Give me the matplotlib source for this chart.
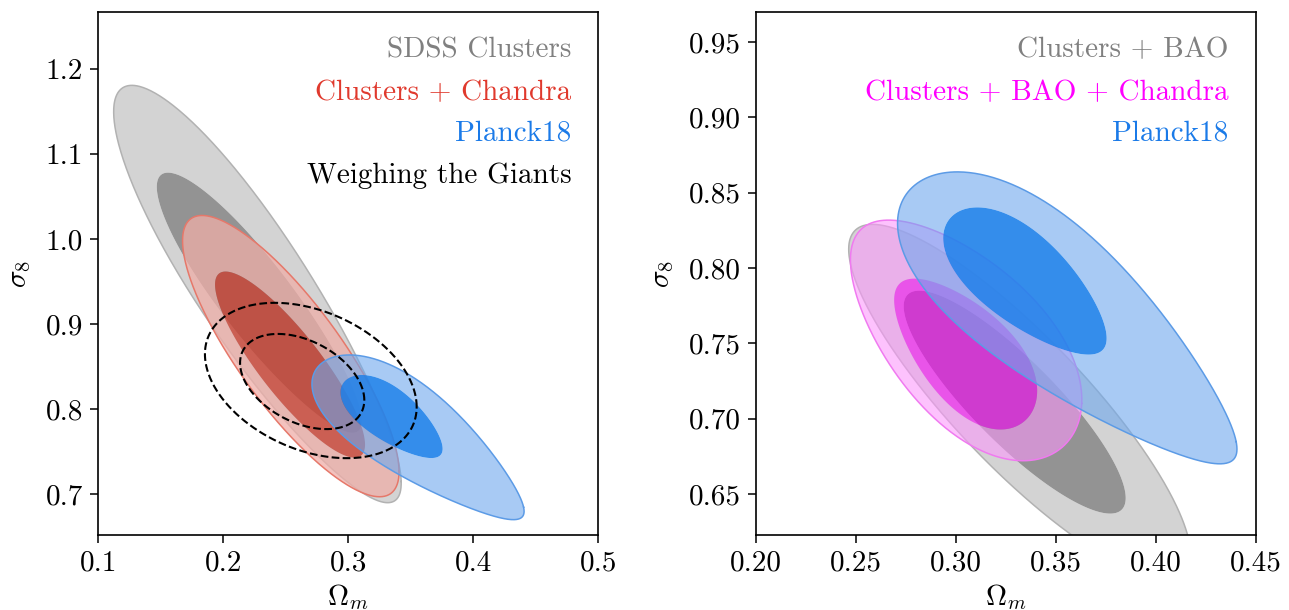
import numpy as np
import matplotlib
matplotlib.use("Agg")
import matplotlib.pyplot as plt
from matplotlib.path import Path
from matplotlib.patches import PathPatch

plt.rcParams["font.family"] = "serif"
plt.rcParams["font.serif"] = ["cmr10"]
plt.rcParams["mathtext.fontset"] = "cm"
plt.rcParams["axes.formatter.use_mathtext"] = True
plt.rcParams["font.size"] = 21

# Contour shapes: [centre Omega_m, centre sigma_8, half-width, half-height, correlation, taper]
sdss_95 = [0.2278, 0.9345, 0.115, 0.2455, -0.89, -0.08]
sdss_68 = [0.229, 0.925, 0.082, 0.153, -0.90, -0.05]
chandra_95 = [0.254, 0.8625, 0.0866, 0.1655, -0.82, 0.0]
chandra_68 = [0.2534, 0.8525, 0.060, 0.1095, -0.86, 0.0]
planck_95 = [0.3588, 0.7635, 0.0845, 0.0965, -0.78, -0.35]
planck_68 = [0.3358, 0.790, 0.0408, 0.0488, -0.68, -0.20]
wtg_95 = [0.270, 0.8338, 0.0847, 0.0914, -0.34, 0.0]
wtg_68 = [0.2631, 0.8326, 0.0497, 0.056, -0.39, 0.0]

bao_95 = [0.332, 0.711, 0.0855, 0.118, -0.86, 0.0]
bao_68 = [0.3295, 0.711, 0.0555, 0.074, -0.86, 0.0]
bao_chandra_95 = [0.3036, 0.7542, 0.0578, 0.0798, -0.58, 0.15]
bao_chandra_68 = [0.3037, 0.7447, 0.0357, 0.050, -0.60, 0.20]

left_labels = ["SDSS Clusters", "Clusters + Chandra", "Planck18", "Weighing the Giants"]
right_labels = ["Clusters + BAO", "Clusters + BAO + Chandra", "Planck18"]

left_xticks = [0.1, 0.2, 0.3, 0.4, 0.5]
left_yticks = [0.7, 0.8, 0.9, 1.0, 1.1, 1.2]
right_xticks = [0.20, 0.25, 0.30, 0.35, 0.40, 0.45]
right_yticks = [0.65, 0.70, 0.75, 0.80, 0.85, 0.90, 0.95]

# colours
GRAY_OUT, GRAY_IN, GRAY_EDGE, GRAY_TXT = "#d3d3d3", "#939393", "#b2b2b2", "#808080"
RED_OUT, RED_IN, RED_EDGE, RED_TXT = "#efaea8", "#c94233", "#e6786a", "#e0392d"
BLUE_OUT, BLUE_IN, BLUE_EDGE, BLUE_TXT = "#6ea8ee", "#2383ea", "#5c9be6", "#1a7ae8"
MAG_OUT, MAG_IN, MAG_EDGE, MAG_TXT = "#fc97fc", "#f800f8", "#f07af0", "#ff00ff"


def contour_xy(shape, n=600):
    cx, cy, hx, hy, rho, taper = shape
    t = np.linspace(0, 2 * np.pi, n)
    X = np.cos(t)
    Y = rho * np.cos(t) + np.sqrt(1 - rho ** 2) * np.sin(t)
    u = (X - Y) / np.sqrt(2)
    v = (X + Y) / np.sqrt(2)
    v = v * (1 + taper * u / np.sqrt(1 - rho))
    X = (u + v) / np.sqrt(2)
    Y = (v - u) / np.sqrt(2)
    return cx + hx * X, cy + hy * Y


def filled(ax, outer, inner, c_out, c_in, c_edge, a_out, a_in, z):
    xo, yo = contour_xy(outer)
    xi, yi = contour_xy(inner)
    # outer band with the inner region cut out
    verts = np.concatenate([np.column_stack([xo, yo]),
                            np.column_stack([xi[::-1], yi[::-1]])])
    codes = np.full(len(verts), Path.LINETO)
    codes[0] = Path.MOVETO
    codes[len(xo)] = Path.MOVETO
    band = PathPatch(Path(verts, codes), facecolor=c_out, alpha=a_out,
                     lw=0, zorder=z)
    ax.add_patch(band)
    ax.fill(xi, yi, color=c_in, alpha=a_in, lw=0, zorder=z + 0.1)
    ax.plot(xo, yo, color=c_edge, lw=1.1, zorder=z + 0.2)


fig = plt.figure(figsize=(12.89, 6.10), dpi=100)
ax1 = fig.add_axes([98.3 / 1289, 75 / 610, 500 / 1289, 523 / 610])
ax2 = fig.add_axes([755.7 / 1289, 75 / 610, 500 / 1289, 523 / 610])

# left panel
filled(ax1, sdss_95, sdss_68, GRAY_OUT, GRAY_IN, GRAY_EDGE, 1.0, 1.0, 1)
filled(ax1, chandra_95, chandra_68, RED_OUT, RED_IN, RED_EDGE, 0.75, 0.8, 2)
filled(ax1, planck_95, planck_68, BLUE_OUT, BLUE_IN, BLUE_EDGE, 0.6, 0.92, 3)
for shape in (wtg_95, wtg_68):
    x, y = contour_xy(shape)
    ax1.plot(x, y, color="black", lw=1.5, ls="--", zorder=5)

# right panel
filled(ax2, bao_95, bao_68, GRAY_OUT, GRAY_IN, GRAY_EDGE, 1.0, 1.0, 1)
filled(ax2, bao_chandra_95, bao_chandra_68, MAG_OUT, MAG_IN, MAG_EDGE, 0.58, 0.6, 2)
filled(ax2, planck_95, planck_68, BLUE_OUT, BLUE_IN, BLUE_EDGE, 0.6, 0.92, 3)

ax1.set_xlim(0.1, 0.5)
ax1.set_ylim(0.652, 1.2674)
ax1.set_xticks(left_xticks)
ax1.set_yticks(left_yticks)
ax1.set_xticklabels([f"{v:.1f}" for v in left_xticks])
ax1.set_yticklabels([f"{v:.1f}" for v in left_yticks])

ax2.set_xlim(0.2, 0.45)
ax2.set_ylim(0.6228, 0.970)
ax2.set_xticks(right_xticks)
ax2.set_yticks(right_yticks)
ax2.set_xticklabels([f"{v:.2f}" for v in right_xticks])
ax2.set_yticklabels([f"{v:.2f}" for v in right_yticks])

for ax in (ax1, ax2):
    ax.set_xlabel(r"$\Omega_m$", labelpad=4)
    ax.set_ylabel(r"$\sigma_8$", labelpad=9)
    ax.tick_params(direction="out", length=6, width=1.1, pad=5)
    for s in ax.spines.values():
        s.set_linewidth(1.2)

ty = [0.9134, 0.832, 0.754, 0.673]
for lab, col, y in zip(left_labels, [GRAY_TXT, RED_TXT, BLUE_TXT, "black"], ty):
    ax1.text(0.9468, y, lab, color=col, ha="right", va="baseline",
             transform=ax1.transAxes, zorder=6)
for lab, col, y in zip(right_labels, [GRAY_TXT, MAG_TXT, BLUE_TXT], ty):
    ax2.text(0.9452, y, lab, color=col, ha="right", va="baseline",
             transform=ax2.transAxes, zorder=6)

fig.savefig("out.png", dpi=100)
